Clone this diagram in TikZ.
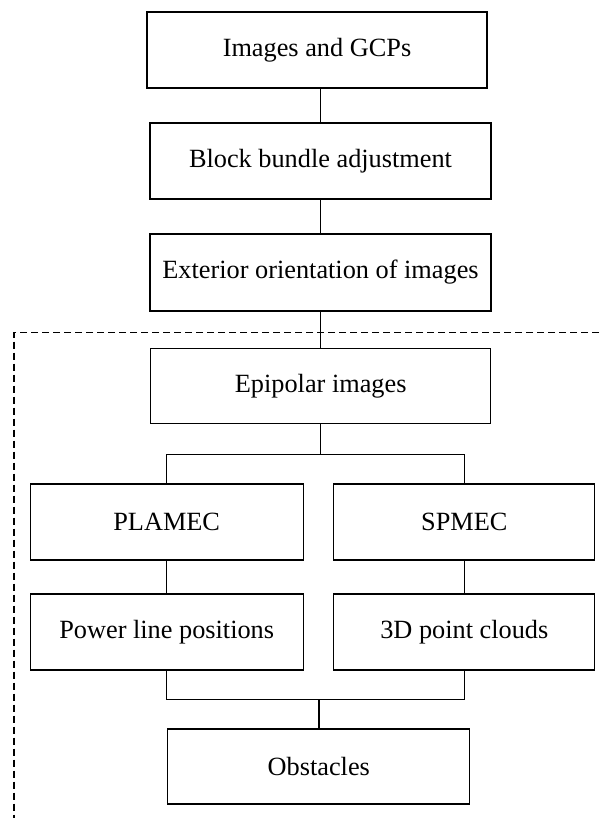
\documentclass[tikz,border=0pt]{standalone}
\usepackage{fontspec}
\setmainfont{Liberation Serif}
\begin{document}
\begin{tikzpicture}[x=1pt,y=1pt,
  box/.style={draw=black,line width=1.3pt,rectangle,inner sep=0pt,align=center,
    font=\fontsize{26.3}{30}\selectfont},
  conn/.style={draw=black,line width=1.3pt},
  frame/.style={draw=black,line width=1.2pt,dash pattern=on 7pt off 4pt}]
\useasboundingbox (0,0) rectangle (599,-818);
\node[box,minimum width=340pt,minimum height=76pt] (b1) at (317,-50) {Images and GCPs};
\node[box,minimum width=341pt,minimum height=76pt] (b2) at (320.5,-161) {Block bundle adjustment};
\node[box,minimum width=341pt,minimum height=77pt] (b3) at (320.5,-272.5) {Exterior orientation of images};
\node[box,minimum width=340pt,minimum height=75pt] (epi) at (320.7,-386.3) {Epipolar images};
\node[box,minimum width=273pt,minimum height=76pt] (pl) at (166.7,-522) {PLAMEC};
\node[box,minimum width=261pt,minimum height=76pt] (sp) at (464.3,-522) {SPMEC};
\node[box,minimum width=273pt,minimum height=76pt] (pw) at (166.7,-632) {Power line positions};
\node[box,minimum width=261pt,minimum height=76pt] (pc) at (464.3,-632) {3D point clouds};
\node[box,minimum width=302pt,minimum height=75pt] (ob) at (318.8,-766.5) {Obstacles};
\coordinate (jn) at (320.7,-454.7);
\coordinate (mg) at (319,-699.3);
\coordinate (fr) at (599,-332.7);
\coordinate (fc) at (14,-332.7);
\coordinate (fb) at (14,-818);
\draw[frame] (fr) -- (fc) -- (fb);
\draw[conn] (b2.north) -- (b2.north |- b1.south);
\draw[conn] (b3.north) -- (b3.north |- b2.south);
\draw[conn] (epi.north) -- (epi.north |- b3.south);
\draw[conn] (epi.south) -- (jn);
\draw[conn] (pl.north) |- (jn) -| (sp.north);
\draw[conn] (pl.south) -- (pw.north);
\draw[conn] (sp.south) -- (pc.north);
\draw[conn] (pw.south) |- (mg) -| (pc.south);
\draw[conn] (mg) -- (mg |- ob.north);
\end{tikzpicture}
\end{document}
